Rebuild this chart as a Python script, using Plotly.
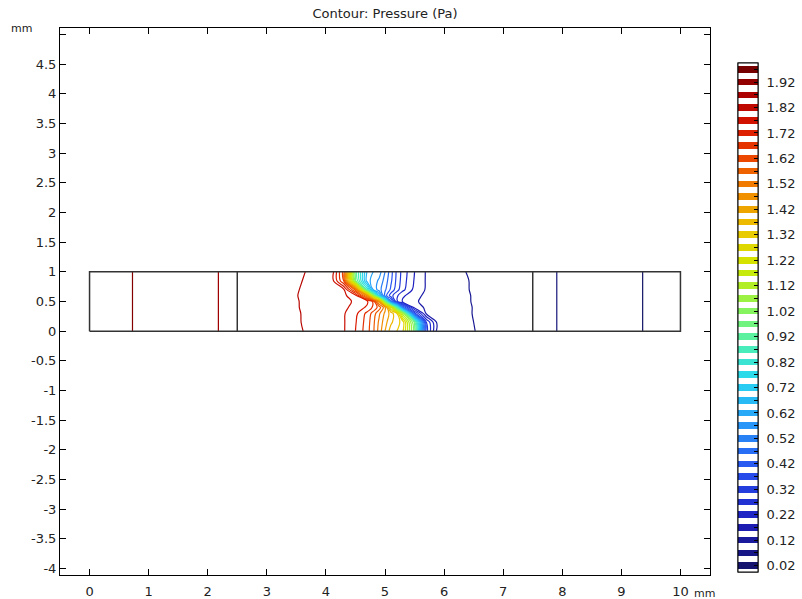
import plotly.graph_objects as go

# ---------------- data ----------------
# grid columns (mm) and rows (mm) of the pressure field
x_mm = [0.0, 2.5, 3.0, 3.5, 3.9, 4.1, 4.3, 4.5, 4.7, 4.8, 4.9, 5.0,
        5.1, 5.2, 5.3, 5.5, 5.7, 5.9, 6.1, 6.5, 7.0, 7.5, 10.0]
y_mm = [0.0, 0.15, 0.3, 0.4, 0.5, 0.6, 0.7, 0.85, 1.0]

# pressure (Pa), one list per row of y_mm
p_y000 = [1.945, 1.859, 1.842, 1.824, 1.810, 1.795, 1.775, 1.720, 1.640, 1.580, 1.500, 1.420,
          1.345, 1.320, 1.280, 0.990, 0.340, 0.140, 0.130, 0.121, 0.102, 0.084, -0.002]
p_y015 = [1.945, 1.859, 1.842, 1.823, 1.808, 1.794, 1.775, 1.725, 1.645, 1.585, 1.510, 1.440,
          1.380, 1.340, 1.300, 0.960, 0.320, 0.145, 0.132, 0.120, 0.101, 0.084, -0.002]
p_y030 = [1.945, 1.859, 1.842, 1.823, 1.807, 1.792, 1.775, 1.735, 1.655, 1.600, 1.530, 1.460,
          1.400, 1.320, 1.090, 0.390, 0.158, 0.148, 0.134, 0.119, 0.100, 0.084, -0.002]
p_y040 = [1.945, 1.859, 1.842, 1.822, 1.806, 1.792, 1.780, 1.755, 1.710, 1.660, 1.600, 1.490,
          1.240, 0.890, 0.490, 0.200, 0.160, 0.150, 0.135, 0.119, 0.100, 0.084, -0.002]
p_y050 = [1.945, 1.859, 1.842, 1.822, 1.805, 1.790, 1.780, 1.765, 1.730, 1.660, 1.450, 0.970,
          0.490, 0.280, 0.210, 0.175, 0.160, 0.150, 0.135, 0.118, 0.100, 0.084, -0.002]
p_y060 = [1.945, 1.859, 1.842, 1.821, 1.805, 1.790, 1.780, 1.740, 1.450, 1.050, 0.700, 0.450,
          0.340, 0.280, 0.230, 0.185, 0.160, 0.148, 0.134, 0.118, 0.100, 0.084, -0.002]
p_y070 = [1.945, 1.859, 1.842, 1.822, 1.806, 1.792, 1.782, 1.550, 0.850, 0.620, 0.540, 0.480,
          0.410, 0.340, 0.285, 0.205, 0.165, 0.148, 0.133, 0.117, 0.100, 0.084, -0.002]
p_y085 = [1.945, 1.859, 1.842, 1.824, 1.808, 1.795, 1.620, 0.980, 0.640, 0.600, 0.560, 0.500,
          0.430, 0.355, 0.295, 0.215, 0.165, 0.146, 0.132, 0.117, 0.099, 0.084, -0.002]
p_y100 = [1.945, 1.859, 1.842, 1.826, 1.810, 1.800, 1.600, 0.950, 0.660, 0.620, 0.595, 0.520,
          0.440, 0.360, 0.300, 0.220, 0.165, 0.145, 0.130, 0.115, 0.099, 0.084, -0.002]

# contour levels and colour range (Pa)
level_start = 0.02
level_end = 1.97
level_step = 0.05
color_min = -0.005
color_max = 1.995
colorbar_labels = [0.02, 0.12, 0.22, 0.32, 0.42, 0.52, 0.62, 0.72, 0.82, 0.92,
                   1.02, 1.12, 1.22, 1.32, 1.42, 1.52, 1.62, 1.72, 1.82, 1.92]

# geometry (mm)
outline_x = [0, 10, 10, 0, 0]
outline_y = [0, 0, 1, 1, 0]
inner_x = [2.5, 2.5, None, 7.5, 7.5]
inner_y = [0, 1, None, 0, 1]

x_ticks = [0, 1, 2, 3, 4, 5, 6, 7, 8, 9, 10]
y_ticks = [-4, -3.5, -3, -2.5, -2, -1.5, -1, -0.5, 0, 0.5, 1, 1.5, 2, 2.5, 3, 3.5, 4, 4.5, 5]

# ---------------- styling ----------------
FONT = "DejaVu Sans"
W, H = 802, 599
rainbow = [
    (0.00, (18, 18, 100)), (0.10, (30, 30, 190)), (0.20, (40, 80, 240)),
    (0.30, (40, 160, 250)), (0.38, (40, 215, 240)), (0.45, (80, 240, 175)),
    (0.52, (140, 245, 85)), (0.60, (210, 232, 0)), (0.67, (235, 200, 0)),
    (0.75, (242, 135, 0)), (0.82, (235, 65, 0)), (0.88, (215, 20, 0)),
    (0.94, (170, 0, 0)), (1.00, (105, 0, 0)),
]


def rgb(c):
    return "rgb(%d,%d,%d)" % c


def color_at(t):
    for (a, ca), (b, cb) in zip(rainbow[:-1], rainbow[1:]):
        if a <= t <= b:
            f = (t - a) / (b - a) if b > a else 0
            return tuple(round(ca[i] + f * (cb[i] - ca[i])) for i in range(3))
    return rainbow[-1][1]


line_scale = [[s, rgb(c)] for s, c in rainbow]

# banded scale for the legend bar: coloured stripe around each level, white in between
n_levels = int(round((level_end - level_start) / level_step)) + 1
levels = [level_start + i * level_step for i in range(n_levels)]
span = color_max - color_min
half = 0.013
eps = 1e-6
band_scale = []
prev = 0.0
for v in levels:
    lo = (v - half - color_min) / span
    hi = (v + half - color_min) / span
    col = rgb(color_at((v - color_min) / span))
    band_scale.append([max(prev, 0.0), "white"])
    band_scale.append([lo, "white"])
    band_scale.append([lo + eps, col])
    band_scale.append([hi, col])
    band_scale.append([hi + eps, "white"])
    prev = hi + eps
band_scale.append([1.0, "white"])
clean = []
for s, c in band_scale:
    s = min(max(s, 0.0), 1.0)
    if clean and s < clean[-1][0]:
        s = clean[-1][0]
    clean.append([s, c])
band_scale = clean

fig = go.Figure()

fig.add_trace(go.Contour(
    x=x_mm, y=y_mm,
    z=[p_y000, p_y015, p_y030, p_y040, p_y050, p_y060, p_y070, p_y085, p_y100],
    contours=dict(start=level_start, end=level_end, size=level_step, coloring="lines"),
    colorscale=line_scale, zauto=False, zmin=color_min, zmax=color_max,
    line=dict(width=1.2, smoothing=1.0),
    showscale=False, hoverinfo="skip",
))

fig.add_trace(go.Scatter(x=outline_x, y=outline_y, mode="lines",
                         line=dict(color="#333333", width=1.5), hoverinfo="skip", showlegend=False))
fig.add_trace(go.Scatter(x=inner_x, y=inner_y, mode="lines",
                         line=dict(color="#333333", width=1.5), hoverinfo="skip", showlegend=False))

bar_common = dict(
    x=(738 - 60) / 650, xanchor="left", xpad=0,
    y=(575 - 317.5) / 547, yanchor="middle", ypad=0,
    len=509 / 547, lenmode="fraction", thickness=20, thicknessmode="pixels",
    outlinewidth=1, outlinecolor="black", tickvals=levels,
    tickfont=dict(family=FONT, size=13, color="#222"),
)

# legend bar with the labels
fig.add_trace(go.Scatter(
    x=[None], y=[None], mode="markers", showlegend=False, hoverinfo="skip",
    marker=dict(
        color=[color_min], cmin=color_min, cmax=color_max, colorscale=band_scale, showscale=True,
        colorbar=dict(
            ticktext=[("%.2f" % v) if any(abs(v - l) < 1e-6 for l in colorbar_labels) else "" for v in levels],
            ticks="outside", ticklen=6, tickcolor="rgba(0,0,0,0)", **bar_common,
        ),
    ),
))
# same bar on top carrying the small level marks
fig.add_trace(go.Scatter(
    x=[None], y=[None], mode="markers", showlegend=False, hoverinfo="skip",
    marker=dict(
        color=[color_min], cmin=color_min, cmax=color_max, colorscale=band_scale, showscale=True,
        colorbar=dict(
            ticktext=["" for v in levels],
            ticks="inside", ticklen=4, tickcolor="black", tickwidth=1, **bar_common,
        ),
    ),
))

axis_common = dict(showline=True, linecolor="black", linewidth=1, mirror="ticks",
                   ticks="inside", ticklen=6, tickcolor="black", showgrid=False, zeroline=False,
                   automargin=False,
                   tickfont=dict(family=FONT, size=13, color="#222"))


def fmt(v):
    return "%g" % v


fig.update_layout(
    width=W, height=H,
    margin=dict(l=60, r=92, t=28, b=24, autoexpand=False),
    paper_bgcolor="white", plot_bgcolor="white",
    showlegend=False,
    title=dict(text="Contour: Pressure (Pa)", x=0.5, xref="paper", xanchor="center",
               y=1 - 13 / H, yref="container", yanchor="middle",
               font=dict(family=FONT, size=13, color="#222")),
    xaxis=dict(range=[-0.5, 10.5], tickvals=x_ticks, ticktext=[fmt(v) for v in x_ticks],
               ticklabelstandoff=4, **axis_common),
    yaxis=dict(range=[-4.11, 5.11], tickvals=y_ticks,
               ticktext=[fmt(v) if v != 5 else "" for v in y_ticks], **axis_common),
    annotations=[
        dict(text="mm", xref="paper", yref="paper", x=(21 - 60) / 650, y=1.0, xanchor="center",
             yanchor="middle", showarrow=False, font=dict(family=FONT, size=11, color="#222")),
        dict(text="mm", xref="paper", yref="paper", x=(692 - 60) / 650, y=(575 - 593) / 547,
             xanchor="left", yanchor="middle", showarrow=False, font=dict(family=FONT, size=11, color="#222")),
    ],
)

fig.write_html("out.html", config={"displayModeBar": False},
               post_script="document.body.style.margin='0';")
